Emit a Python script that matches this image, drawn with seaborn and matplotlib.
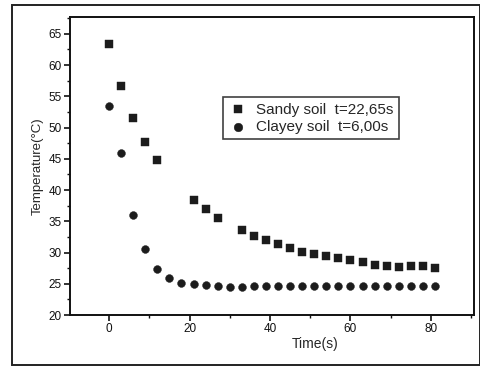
import matplotlib
matplotlib.use("Agg")
import matplotlib.pyplot as plt
import seaborn as sns
import pandas as pd
from matplotlib.patches import Rectangle
from matplotlib.ticker import MultipleLocator

sandy_time = [0, 3, 6, 9, 12, 21, 24, 27, 33, 36, 39, 42, 45, 48, 51, 54, 57,
              60, 63, 66, 69, 72, 75, 78, 81]
sandy_temp = [63.3, 56.6, 51.5, 47.7, 44.8, 38.4, 36.9, 35.6, 33.6, 32.7, 32.0,
              31.4, 30.8, 30.1, 29.8, 29.4, 29.1, 28.8, 28.5, 28.0, 27.8, 27.7,
              27.9, 27.8, 27.6]

clay_time = [0, 3, 6, 9, 12, 15, 18, 21, 24, 27, 30, 33, 36, 39, 42, 45, 48, 51,
             54, 57, 60, 63, 66, 69, 72, 75, 78, 81]
clay_temp = [53.5, 46.0, 36.0, 30.5, 27.4, 25.9, 25.2, 24.9, 24.75, 24.6, 24.45,
             24.45, 24.6, 24.6, 24.6, 24.6, 24.6, 24.6, 24.6, 24.6, 24.6, 24.6,
             24.6, 24.6, 24.6, 24.6, 24.6, 24.6]

sandy_label = "Sandy soil  t=22,65s"
clay_label = "Clayey soil  t=6,00s"

sns.set_theme(style="ticks")
plt.rcParams['font.family'] = ['Liberation Sans', 'DejaVu Sans']

fig = plt.figure(figsize=(4.81, 3.66), dpi=100)
ax = fig.add_axes([70/481, 1-315/366, (474-70)/481, (315-17)/366])

df_s = pd.DataFrame({"t": sandy_time, "T": sandy_temp})
df_c = pd.DataFrame({"t": clay_time, "T": clay_temp})
mc = "#1c1c1c"
sns.scatterplot(data=df_s, x="t", y="T", marker="s", s=26, color=mc,
                edgecolor=mc, linewidth=0.3, label=sandy_label, ax=ax)
sns.scatterplot(data=df_c, x="t", y="T", marker="o", s=32, color=mc,
                edgecolor=mc, linewidth=0.3, label=clay_label, ax=ax)

ax.set_xlim(-9.7, 90.7)
ax.set_ylim(20, 67.7)
ax.xaxis.set_major_locator(MultipleLocator(20))
ax.xaxis.set_minor_locator(MultipleLocator(10))
ax.yaxis.set_major_locator(MultipleLocator(5))
ax.yaxis.set_minor_locator(MultipleLocator(2.5))
ax.tick_params(axis="both", which="major", direction="out", length=4, width=1.2,
               labelsize=8.5, colors="#111111", pad=2)
ax.tick_params(axis="both", which="minor", direction="out", length=2.5, width=1.0,
               colors="#111111")
for sp in ax.spines.values():
    sp.set_linewidth(1.4)
    sp.set_color("#111111")
ax.set_xlabel("Time(s)", fontsize=10, labelpad=0)
ax.xaxis.set_label_coords(0.606, -0.075)
ax.set_ylabel("Temperature(°C)", fontsize=9.5, labelpad=3)

leg = ax.legend(loc="upper left", bbox_to_anchor=(0.379, 0.731),
                borderaxespad=0, fontsize=11, frameon=True, fancybox=False,
                handletextpad=0.6, handlelength=1.2, borderpad=0.35,
                labelspacing=0.2, markerscale=1.1)
leg.get_frame().set_edgecolor("#111111")
leg.get_frame().set_linewidth(1.2)

fig.patches.append(Rectangle((12/481, 1-365/366), (480-12)/481, (365-5)/366,
                             transform=fig.transFigure, fill=False,
                             edgecolor="#222222", linewidth=1.4))

fig.savefig("out.png", dpi=100)
